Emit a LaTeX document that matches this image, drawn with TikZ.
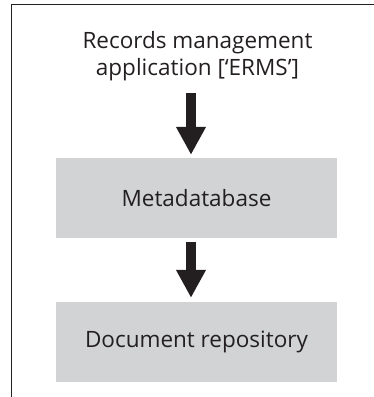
\documentclass[tikz,border=0pt]{standalone}
\usepackage{fontspec}
\setmainfont{Open Sans}
\usetikzlibrary{arrows.meta}
\definecolor{ink}{HTML}{231F20}
\definecolor{boxgray}{HTML}{D1D3D4}
\tikzset{
  label text/.style={font=\fontsize{22.5}{27}\selectfont, text=ink, align=center, inner sep=0pt},
  storebox/.style={fill=boxgray, draw=none, minimum width=281pt, minimum height=80pt,
    font=\fontsize{22.5}{27}\selectfont, text=ink, inner sep=0pt},
  bigarrow/.style={draw=ink, line width=10pt,
    -{Triangle[width=28pt,length=28pt]}},
  frame line/.style={draw=ink, line width=1.2pt}
}
\begin{document}
\begin{tikzpicture}[x=1pt,y=-1pt]
  \useasboundingbox (0,0) rectangle (374,397);
  % open frame: top and left edges only
  \coordinate (ftr) at (376,4.3);
  \coordinate (ftl) at (11.7,4.3);
  \coordinate (fbl) at (11.7,399);
  \draw[frame line] (ftr) -- (ftl) -- (fbl);
  % application and storage layers
  \node[label text] (app) at (197.5,56) {Records management\\application [‘ERMS’]};
  \node[storebox] (meta) at (196.5,198) {Metadatabase};
  \node[storebox] (repo) at (196.5,342) {Document repository};
  % flow arrows
  \coordinate (a1) at (191,93);
  \draw[bigarrow, shorten >=3pt] (a1) -- (meta.north -| a1);
  \draw[bigarrow, shorten <=4pt, shorten >=4pt] (meta.south -| a1) -- (repo.north -| a1);
\end{tikzpicture}
\end{document}
